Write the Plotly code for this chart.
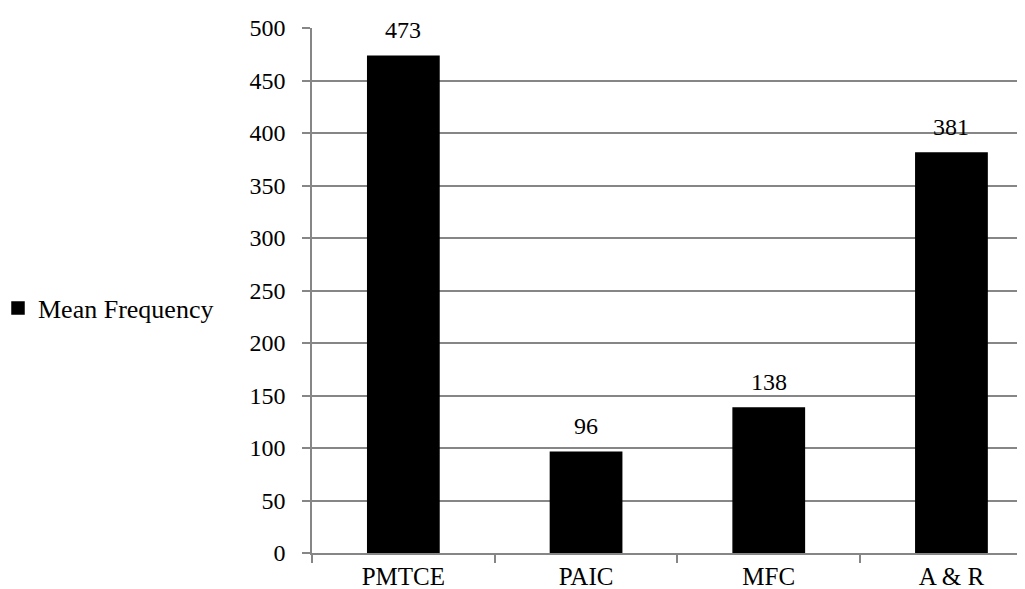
import plotly.graph_objects as go

categories = ["PMTCE", "PAIC", "MFC", "A & R"]
values = [473, 96, 138, 381]
series_name = "Mean Frequency"
y_ticks = [0, 50, 100, 150, 200, 250, 300, 350, 400, 450, 500]

W, H = 1025, 589
L, R, T, B = 304, 0, 20, 44
plot_w = W - L - R
cat_w = 182.7
FONT = "Times New Roman"

fig = go.Figure()
fig.add_trace(go.Bar(
    x=categories, y=values, name=series_name,
    marker=dict(color="#000000", line=dict(width=1.5, color="#000000")),
    showlegend=True,
))

for c, v in zip(categories, values):
    fig.add_annotation(x=c, y=v, text=str(v), showarrow=False,
                       yanchor="bottom", yshift=11,
                       font=dict(family=FONT, size=24, color="#000"))

fig.update_layout(
    width=W, height=H,
    margin=dict(l=L, r=R, t=T, b=B, autoexpand=False),
    plot_bgcolor="white", paper_bgcolor="white",
    bargap=0.61,
    font=dict(family=FONT, size=24, color="#000"),
    legend=dict(x=-(L + 10) / plot_w, xanchor="left", y=(545 - 300) / 525, yanchor="middle",
                font=dict(family=FONT, size=26, color="#000"), itemwidth=30, bgcolor="rgba(0,0,0,0)"),
    xaxis=dict(range=[-0.5, -0.5 + plot_w / cat_w], showline=True, linecolor="#868686", linewidth=1.5,
               ticks="outside", tickson="boundaries", ticklen=8, tickcolor="#868686", tickwidth=1.5,
               showgrid=False, tickfont=dict(family=FONT, size=25, color="#000")),
    yaxis=dict(range=[0, 500], tickvals=y_ticks, showline=True, linecolor="#868686", linewidth=1.5,
               ticks="outside", ticklen=8, tickcolor="#868686", tickwidth=1.5,
               showgrid=True, gridcolor="#868686", gridwidth=1.5, zeroline=False,
               tickfont=dict(family=FONT, size=24, color="#000"), ticklabelstandoff=12),
)

fig.write_html("out.html")
